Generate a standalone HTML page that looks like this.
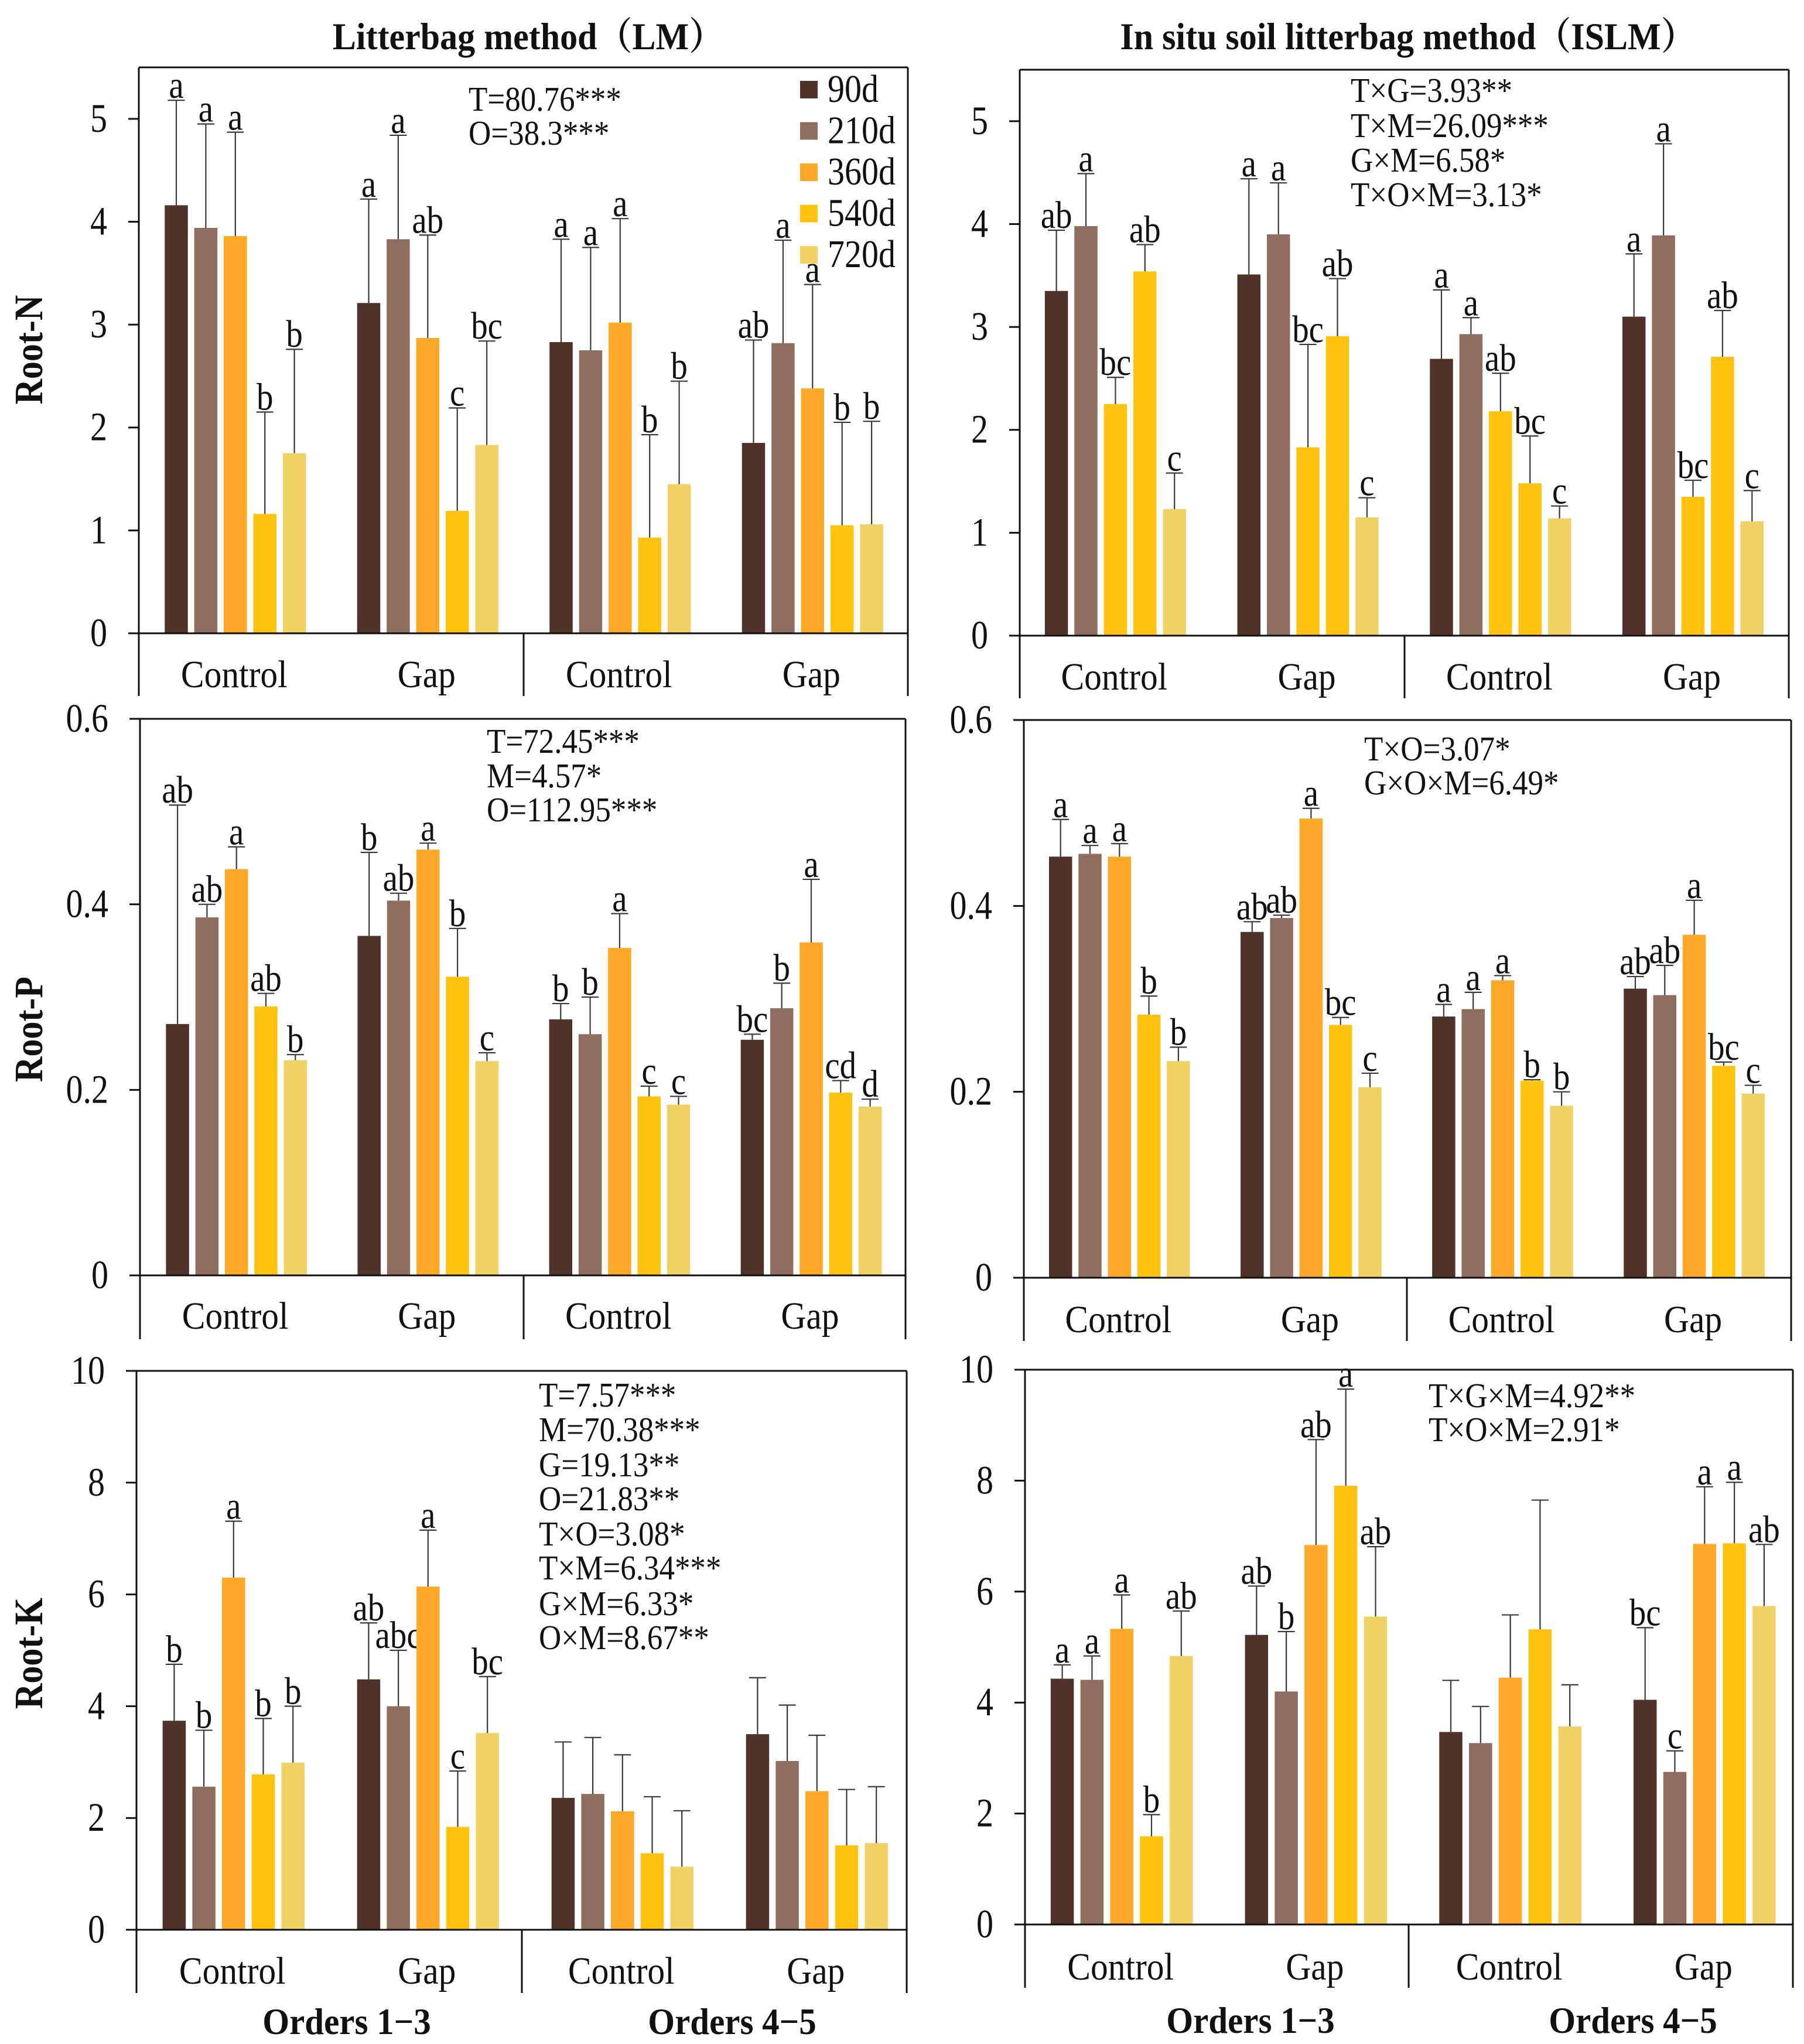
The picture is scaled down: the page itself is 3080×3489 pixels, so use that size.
<!DOCTYPE html>
<html lang="en">
<head>
<meta charset="utf-8">
<title>Root nutrient concentrations by decomposition time</title>
<style>
html,body{margin:0;padding:0;background:#fff;}
svg{display:block;}
text{font-family:"Liberation Serif","Noto Serif CJK SC",serif;fill:#111;}
.title{font-size:60px;font-weight:bold;}
.ytitle{font-size:60px;font-weight:bold;}
.orders{font-size:59px;font-weight:bold;}
.stat{font-size:53px;}
.tick{font-size:58px;}
.cat{font-size:59.5px;}
.letter{font-size:57px;}
.legend{font-size:58px;}
</style>
</head>
<body>
<svg id="chart" xmlns="http://www.w3.org/2000/svg" width="3080" height="3489" viewBox="0 0 3080 3489">
  <rect x="0" y="0" width="3080" height="3489" fill="#fff"/>
  <text class="title" x="902" y="83" text-anchor="middle">Litterbag method（LM）</text>
  <text class="title" x="2404" y="83" text-anchor="middle">In situ soil litterbag method（ISLM）</text>

  <text class="ytitle" transform="translate(72 597) rotate(-90) scale(1 1.15)" text-anchor="middle">Root-N</text>
  <text class="ytitle" transform="translate(72 1757) rotate(-90) scale(1 1.15)" text-anchor="middle">Root-P</text>
  <text class="ytitle" transform="translate(72 2822) rotate(-90) scale(1 1.15)" text-anchor="middle">Root-K</text>

  <text class="orders" x="592" y="3470" text-anchor="middle">Orders 1−3</text>
  <text class="orders" x="1250" y="3470" text-anchor="middle">Orders 4−5</text>
  <text class="orders" x="2135" y="3468" text-anchor="middle">Orders 1−3</text>
  <text class="orders" x="2788" y="3468" text-anchor="middle">Orders 4−5</text>

  <g>
    <text class="stat" x="800" y="187">T=80.76***</text>
    <text class="stat" x="800" y="245">O=38.3***</text>
  </g>
  <g>
    <text class="stat" x="2306" y="172">T×G=3.93**</text>
    <text class="stat" x="2306" y="232">T×M=26.09***</text>
    <text class="stat" x="2306" y="291">G×M=6.58*</text>
    <text class="stat" x="2306" y="350">T×O×M=3.13*</text>
  </g>
  <g>
    <text class="stat" x="831" y="1283">T=72.45***</text>
    <text class="stat" x="831" y="1342">M=4.57*</text>
    <text class="stat" x="831" y="1400">O=112.95***</text>
  </g>
  <g>
    <text class="stat" x="2329" y="1296">T×O=3.07*</text>
    <text class="stat" x="2329" y="1354">G×O×M=6.49*</text>
  </g>
  <g>
    <text class="stat" x="920" y="2399">T=7.57***</text>
    <text class="stat" x="920" y="2458">M=70.38***</text>
    <text class="stat" x="920" y="2518">G=19.13**</text>
    <text class="stat" x="920" y="2576">O=21.83**</text>
    <text class="stat" x="920" y="2636">T×O=3.08*</text>
    <text class="stat" x="920" y="2694">T×M=6.34***</text>
    <text class="stat" x="920" y="2755">G×M=6.33*</text>
    <text class="stat" x="920" y="2813">O×M=8.67**</text>
  </g>
  <g>
    <text class="stat" x="2439" y="2400">T×G×M=4.92**</text>
    <text class="stat" x="2439" y="2458">T×O×M=2.91*</text>
  </g>
</svg>
<script>
// ---- shared categories ----
const categories = ['Control', 'Gap', 'Control', 'Gap'];
const seriesNames = ['90d', '210d', '360d', '540d', '720d'];
const ticksN = ['0', '1', '2', '3', '4', '5'];
const ticksP = ['0', '0.2', '0.4', '0.6'];
const ticksK = ['0', '2', '4', '6', '8', '10'];

// ---- LM Root-N ----
const lmNMeans = [[4.16,3.94,3.86,1.16,1.75],[3.21,3.83,2.87,1.19,1.83],[2.83,2.75,3.02,0.93,1.45],[1.85,2.82,2.38,1.05,1.06]];
const lmNUpper = [[5.18,4.95,4.87,2.15,2.76],[4.22,4.84,3.87,2.19,2.84],[3.83,3.75,4.03,1.93,2.45],[2.85,3.82,3.39,2.05,2.06]];
const lmNLetters = [['a','a','a','b','b'],['a','a','ab','c','bc'],['a','a','a','b','b'],['ab','a','a','b','b']];

// ---- ISLM Root-N ----
const islmNMeans = [[3.35,3.98,2.25,3.54,1.23],[3.51,3.90,1.83,2.91,1.15],[2.69,2.93,2.18,1.48,1.14],[3.10,3.89,1.35,2.71,1.11]];
const islmNUpper = [[3.94,4.49,2.51,3.80,1.58],[4.44,4.40,2.83,3.47,1.34],[3.36,3.09,2.55,1.94,1.26],[3.71,4.78,1.51,3.16,1.41]];
const islmNLetters = [['ab','a','bc','ab','c'],['a','a','bc','ab','c'],['a','a','ab','bc','c'],['a','a','bc','ab','c']];

// ---- LM Root-P ----
const lmPMeans = [[0.271,0.386,0.438,0.290,0.232],[0.366,0.404,0.459,0.322,0.231],[0.276,0.260,0.353,0.193,0.184],[0.254,0.288,0.359,0.197,0.182]];
const lmPUpper = [[0.507,0.400,0.462,0.304,0.238],[0.456,0.412,0.466,0.374,0.240],[0.293,0.300,0.390,0.204,0.193],[0.260,0.315,0.427,0.210,0.190]];
const lmPLetters = [['ab','ab','a','ab','b'],['b','ab','a','b','c'],['b','b','a','c','c'],['bc','b','a','cd','d']];

// ---- ISLM Root-P ----
const islmPMeans = [[0.453,0.456,0.453,0.283,0.233],[0.372,0.387,0.494,0.272,0.205],[0.281,0.289,0.320,0.212,0.185],[0.311,0.304,0.369,0.228,0.198]];
const islmPUpper = [[0.493,0.465,0.467,0.303,0.248],[0.383,0.390,0.505,0.280,0.220],[0.294,0.307,0.325,0.213,0.200],[0.324,0.336,0.406,0.232,0.207]];
const islmPLetters = [['a','a','a','b','b'],['ab','ab','a','bc','c'],['a','a','a','b','b'],['ab','ab','a','bc','c']];

// ---- LM Root-K ----
const lmKMeans = [[3.74,2.56,6.30,2.78,2.99],[4.48,4.00,6.14,1.84,3.52],[2.36,2.43,2.12,1.37,1.13],[3.50,3.02,2.48,1.51,1.55]];
const lmKUpper = [[4.75,3.57,7.31,3.78,4.00],[5.49,5.00,7.15,2.84,4.53],[3.36,3.44,3.13,2.38,2.13],[4.51,4.02,3.48,2.51,2.56]];
const lmKLetters = [['b','b','a','b','b'],['ab','abc','a','c','bc'],['','','','',''],['','','','','']];

// ---- ISLM Root-K ----
const islmKMeans = [[4.43,4.41,5.33,1.59,4.84],[5.22,4.20,6.84,7.91,5.55],[3.47,3.27,4.45,5.32,3.57],[4.05,2.75,6.86,6.87,5.74]];
const islmKUpper = [[4.68,4.84,5.94,1.98,5.65],[6.10,5.28,8.74,9.65,6.81],[4.40,3.93,5.58,7.65,4.32],[5.35,3.13,7.89,7.97,6.85]];
const islmKLetters = [['a','a','a','b','ab'],['ab','b','ab','a','ab'],['','','','',''],['bc','c','a','a','ab']];

// ---- style and panel layout (not data) ----
const DARK = '#4f332b', BROWN = '#8d6e60', ORANGE = '#ffa726', YELLOW = '#ffc30f', PALE = '#f0d264';
const paletteStandard = [DARK, BROWN, ORANGE, YELLOW, PALE];
const paletteNoOrange = [DARK, BROWN, YELLOW, YELLOW, PALE];
const BAR_W = 39.5;
const CAP_W = 29;

const panels = [
  {key:'lm-n', means:lmNMeans, upper:lmNUpper, letters:lmNLetters, ticks:ticksN, yMax:5.5, colors:paletteStandard,
   left:237, right:1550, top:115, base:1081, bottom:1188, sep:894, c0:401.8, gw:328.5, step:50.4, catY:1171},
  {key:'islm-n', means:islmNMeans, upper:islmNUpper, letters:islmNLetters, ticks:ticksN, yMax:5.5, colors:paletteNoOrange,
   left:1741, right:3054, top:119, base:1085, bottom:1192, sep:2398, c0:1904.4, gw:328.7, step:50.4, catY:1175},
  {key:'lm-p', means:lmPMeans, upper:lmPUpper, letters:lmPLetters, ticks:ticksP, yMax:0.6, colors:paletteStandard,
   left:239, right:1546, top:1227, base:2177, bottom:2286, sep:894, c0:403.7, gw:327.1, step:50.3, catY:2266},
  {key:'islm-p', means:islmPMeans, upper:islmPUpper, letters:islmPLetters, ticks:ticksP, yMax:0.6, colors:paletteStandard,
   left:1748, right:3058, top:1229, base:2181, bottom:2289, sep:2402, c0:1911.3, gw:327.1, step:50.3, catY:2272},
  {key:'lm-k', means:lmKMeans, upper:lmKUpper, letters:lmKLetters, ticks:ticksK, yMax:10, colors:paletteStandard,
   left:233, right:1548, top:2340, base:3294, bottom:3402, sep:891, c0:398.8, gw:332, step:50.7, catY:3384},
  {key:'islm-k', means:islmKMeans, upper:islmKUpper, letters:islmKLetters, ticks:ticksK, yMax:10, colors:paletteStandard,
   left:1750, right:3061, top:2338, base:3285, bottom:3393, sep:2405, c0:1915.2, gw:331.7, step:50.8, catY:3377}
];

const NS = 'http://www.w3.org/2000/svg';
const root = document.getElementById('chart');

function node(tag, attrs, parent) {
  const n = document.createElementNS(NS, tag);
  for (const k in attrs) n.setAttribute(k, attrs[k]);
  parent.appendChild(n);
  return n;
}

panels.forEach(function (p) {
  const yScale = function (v) { return p.base - (v / p.yMax) * (p.base - p.top); };
  const xScale = function (g, s) { return p.c0 + g * p.gw + (s - 2) * p.step; };

  const g = node('g', {}, root);
  
  

  // bars and error bars
  p.means.forEach(function (row, gi) {
    row.forEach(function (value, si) {
      const cx = xScale(gi, si);
      const bar = node('rect', {x: cx - BAR_W / 2, y: yScale(value), width: BAR_W, height: p.base - yScale(value), fill: p.colors[si]}, g);
      
      

      const up = yScale(p.upper[gi][si]);
      const stem = node('line', {x1: cx, x2: cx, y1: yScale(value), y2: up, stroke: '#3a3a3a', 'stroke-width': 2.2}, g);
      
      

      const cap = node('line', {x1: cx - CAP_W / 2, x2: cx + CAP_W / 2, y1: up, y2: up, stroke: '#3a3a3a', 'stroke-width': 2.2}, g);
      
      

      const letter = p.letters[gi][si];
      if (letter) {
        const t = node('text', {x: cx, y: up - 4, 'text-anchor': 'middle', 'class': 'letter'}, g);
        t.textContent = letter;
        
        
      }
    });
  });

  // frame
  const frameLines = [
    ['frame-top', p.left, p.top, p.right, p.top],
    ['frame-left', p.left, p.top, p.left, p.bottom],
    ['frame-right', p.right, p.top, p.right, p.bottom],
    ['x-axis-line', p.left, p.base, p.right, p.base],
    ['group-separator', p.sep, p.base, p.sep, p.bottom]
  ];
  frameLines.forEach(function (f) {
    const l = node('line', {x1: f[1], y1: f[2], x2: f[3], y2: f[4], stroke: '#111', 'stroke-width': 3}, g);
    
    
  });

  // y ticks
  p.ticks.forEach(function (label) {
    const y = yScale(parseFloat(label));
    const tk = node('line', {x1: p.left - 18, x2: p.left, y1: y, y2: y, stroke: '#111', 'stroke-width': 3}, g);
    
    

    const t = node('text', {x: p.left - 54, y: y + 22, 'text-anchor': 'end', 'class': 'tick'}, g);
    t.textContent = label;
    
    
  });

  // category labels
  categories.forEach(function (label, gi) {
    const t = node('text', {x: p.c0 + gi * p.gw - 2, y: p.catY + 2, 'text-anchor': 'middle', 'class': 'cat'}, g);
    t.textContent = label;
    
    
  });
});

// legend (top-left panel)
const legend = node('g', {}, root);


seriesNames.forEach(function (name, i) {
  const swatch = node('rect', {x: 1366, y: 138 + i * 70.5, width: 30, height: 30, fill: paletteStandard[i]}, legend);
  
  

  const t = node('text', {x: 1413, y: 174 + i * 70.5, 'class': 'legend'}, legend);
  t.textContent = name;
  
  
});

// the reference type is slightly condensed: stretch each label vertically about its baseline
const stretchByClass = {stat: 1.12, tick: 1.18, cat: 1.1, letter: 1.15, legend: 1.15, title: 1.08, orders: 1.08};
const nudgeByClass = {stat: 2, tick: 0, cat: 0, letter: 0, legend: 0, title: 1, orders: 2};
Object.keys(stretchByClass).forEach(function (cls) {
  const s = stretchByClass[cls];
  const nudge = nudgeByClass[cls];
  root.querySelectorAll('text.' + cls).forEach(function (t) {
    const by = parseFloat(t.getAttribute('y'));
    t.setAttribute('transform', 'translate(0 ' + (by * (1 - s) + nudge) + ') scale(1 ' + s + ')');
  });
});
</script>
</body>
</html>
